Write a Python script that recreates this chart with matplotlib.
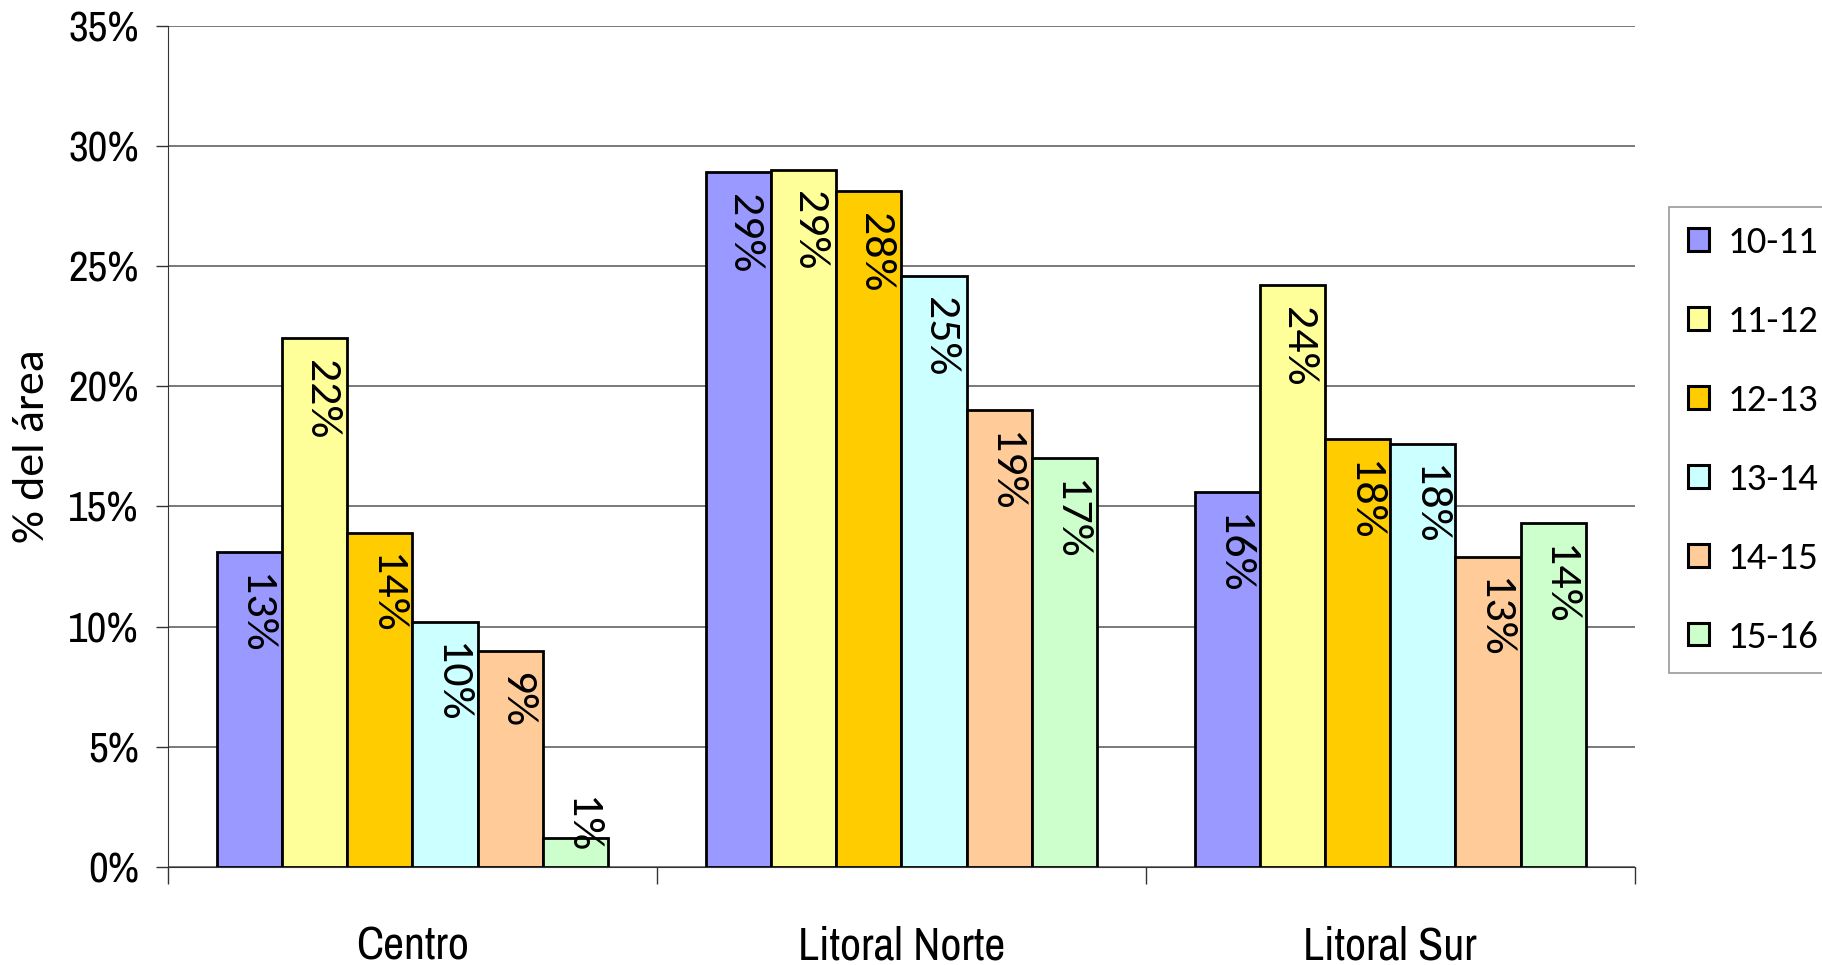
import matplotlib
matplotlib.use("Agg")
import matplotlib.pyplot as plt
from matplotlib import font_manager as fm
from matplotlib.patches import Patch
import numpy as np

# data (percent of area)
regions = ["Centro", "Litoral Norte", "Litoral Sur"]
seasons = ["10-11", "11-12", "12-13", "13-14", "14-15", "15-16"]
colors = ["#9999FF", "#FFFF99", "#FFCC00", "#CCFFFF", "#FFCC99", "#CCFFCC"]

v_10_11 = [13.1, 28.9, 15.6]
v_11_12 = [22.0, 29.0, 24.2]
v_12_13 = [13.9, 28.1, 17.8]
v_13_14 = [10.2, 24.6, 17.6]
v_14_15 = [9.0, 19.0, 12.9]
v_15_16 = [1.2, 17.0, 14.3]
series = [v_10_11, v_11_12, v_12_13, v_13_14, v_14_15, v_15_16]

yticks = [0, 5, 10, 15, 20, 25, 30, 35]


def pick(cands):
    for c in cands:
        try:
            fm.findfont(fm.FontProperties(family=c), fallback_to_default=False)
            return [c, "DejaVu Sans"]
        except Exception:
            continue
    return ["DejaVu Sans"]


NARROW = pick(["Liberation Sans Narrow", "Archivo Narrow", "Roboto Condensed",
               "PT Sans Narrow", "Asap Condensed"])
LEG_FONT = pick(["Carlito", "Lato", "Open Sans"])
LABEL_FONT = pick(["Carlito"])
label_size = 33 if LABEL_FONT[0] == "Carlito" else 27

fig = plt.figure(figsize=(18.22, 9.65), dpi=100)
ax = fig.add_axes([0.0922, 0.1016, 0.8050, 0.8719])

group_w = 0.8
bw = group_w / len(series)
centers = np.arange(len(regions)) + 0.5
pad = 0.9        # gap between bar top and its label (data units)
min_top = 2.9    # labels that don't fit inside a bar sit just above it

for i, (vals, col) in enumerate(zip(series, colors)):
    x = centers - group_w / 2 + bw * (i + 0.5)
    ax.bar(x, vals, width=bw, color=col, edgecolor="black", linewidth=2.0, zorder=3)
    for xi, v in zip(x, vals):
        ax.text(xi + 0.012, max(v - pad, min_top), f"{v:.0f}%", rotation=-90,
                ha="center", va="top", fontsize=label_size, family=LABEL_FONT,
                zorder=4)

ax.set_xlim(0, 3)
ax.set_ylim(0, 35)
ax.set_yticks(yticks)
ax.set_yticklabels([f"{t}%" for t in yticks], family=NARROW, fontsize=31)
ax.yaxis.grid(True, color="#555555", linewidth=1.1, zorder=0)
ax.tick_params(axis="y", length=9, width=1, pad=12, color="#333333")

ax.set_xticks([0, 1, 2, 3])
ax.set_xticklabels([])
ax.set_xticks(centers, minor=True)
ax.set_xticklabels(regions, minor=True, family=NARROW, fontsize=33)
ax.tick_params(axis="x", which="major", length=12, width=1, color="#333333")
ax.tick_params(axis="x", which="minor", length=0, pad=42)

for s in ["top", "right"]:
    ax.spines[s].set_visible(False)
ax.spines["left"].set_color("#333333")
ax.spines["bottom"].set_color("#333333")

ax.set_ylabel("% del área", fontsize=label_size, family=LABEL_FONT)
ax.yaxis.set_label_coords(-0.080, 0.5)

handles = [Patch(facecolor=c, edgecolor="black", linewidth=2.2) for c in colors]
leg = fig.legend(handles, seasons, loc="upper left", bbox_to_anchor=(0.916, 0.7855),
                 frameon=True, fancybox=False, edgecolor="#808080",
                 prop={"family": LEG_FONT, "size": 28}, handlelength=0.52,
                 handleheight=0.52, handletextpad=0.48, labelspacing=1.18,
                 borderpad=0.5, borderaxespad=0)
leg.get_frame().set_linewidth(1.2)

fig.savefig("out.png", dpi=100)
